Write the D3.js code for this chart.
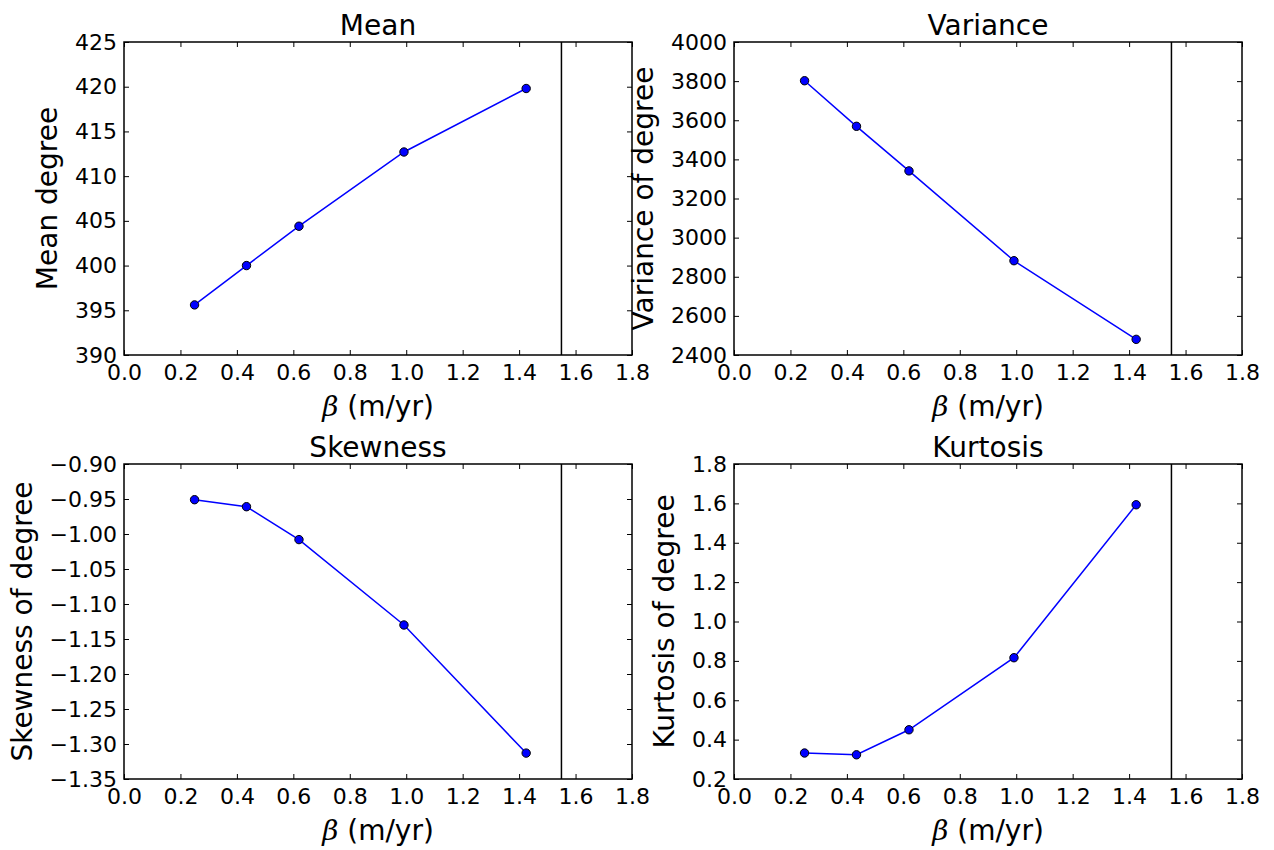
<!DOCTYPE html>
<html>
<head>
<meta charset="utf-8">
<script src="https://cdn.jsdelivr.net/npm/d3@7"></script>
<style>
  body { margin: 0; background: #fff; }
  text { font-family: "DejaVu Sans", sans-serif; fill: #000; }
</style>
</head>
<body>
<svg id="canvas"></svg>
<script>
// Figure size
const width = 1274, height = 850;

// Data
const betaValues = [0.25, 0.434, 0.62, 0.992, 1.425];
const meanValues = [395.6, 400.0, 404.4, 412.7, 419.8];
const varianceValues = [3802, 3569, 3341, 2882, 2480];
const skewnessValues = [-0.951, -0.961, -1.008, -1.130, -1.313];
const kurtosisValues = [0.332, 0.323, 0.45, 0.816, 1.593];

const xTicks = [0.0, 0.2, 0.4, 0.6, 0.8, 1.0, 1.2, 1.4, 1.6, 1.8];
const meanTicks = [390, 395, 400, 405, 410, 415, 420, 425];
const varianceTicks = [2400, 2600, 2800, 3000, 3200, 3400, 3600, 3800, 4000];
const skewnessTicks = [-1.35, -1.30, -1.25, -1.20, -1.15, -1.10, -1.05, -1.00, -0.95, -0.90];
const kurtosisTicks = [0.2, 0.4, 0.6, 0.8, 1.0, 1.2, 1.4, 1.6, 1.8];

const cutoff = 1.55; // vertical black line

// Panel layout (left, right, top, bottom in pixels)
const cols = [[124, 632], [734, 1242]];
const rows = [[42, 355], [464, 779]];

const panels = [
    { title: "Mean", ylabel: "Mean degree", values: meanValues, ticks: meanTicks, fmt: d3.format("d"), col: 0, row: 0 },
    { title: "Variance", ylabel: "Variance of degree", values: varianceValues, ticks: varianceTicks, fmt: d3.format("d"), col: 1, row: 0 },
    { title: "Skewness", ylabel: "Skewness of degree", values: skewnessValues, ticks: skewnessTicks, fmt: d3.format(".2f"), col: 0, row: 1 },
    { title: "Kurtosis", ylabel: "Kurtosis of degree", values: kurtosisValues, ticks: kurtosisTicks, fmt: d3.format(".1f"), col: 1, row: 1 }
];

const svg = d3.select("#canvas")
    .attr("width", width)
    .attr("height", height);

panels.forEach(p => {
    const [x0, x1] = cols[p.col];
    const [y0, y1] = rows[p.row];
    const w = x1 - x0, h = y1 - y0;

    const x = d3.scaleLinear().domain([0, 1.8]).range([0, w]);
    const y = d3.scaleLinear().domain(d3.extent(p.ticks)).range([h, 0]);

    const g = svg.append("g").attr("transform", `translate(${x0},${y0})`);

    // bottom axis with labels, inward ticks
    const xAxis = g.append("g")
        .attr("transform", `translate(0,${h})`)
        .call(d3.axisBottom(x).tickValues(xTicks).tickFormat(d3.format(".1f"))
            .tickSizeInner(-5).tickSizeOuter(0).tickPadding(9));
    // top axis, ticks only
    const xTop = g.append("g")
        .call(d3.axisTop(x).tickValues(xTicks).tickFormat("")
            .tickSizeInner(-5).tickSizeOuter(0));
    // left axis with labels
    const yAxis = g.append("g")
        .call(d3.axisLeft(y).tickValues(p.ticks).tickFormat(p.fmt)
            .tickSizeInner(-5).tickSizeOuter(0).tickPadding(7));
    // right axis, ticks only
    const yRight = g.append("g")
        .attr("transform", `translate(${w},0)`)
        .call(d3.axisRight(y).tickValues(p.ticks).tickFormat("")
            .tickSizeInner(-5).tickSizeOuter(0));

    [xAxis, xTop, yAxis, yRight].forEach(a => {
        a.select(".domain").remove();
        a.selectAll(".tick line").attr("stroke", "#000").attr("stroke-width", 1);
        a.selectAll(".tick text")
            .attr("font-size", 22)
            .attr("font-family", "DejaVu Sans, sans-serif")
            .attr("fill", "#000");
    });

    // vertical cut-off line
    g.append("line")
        .attr("x1", x(cutoff)).attr("x2", x(cutoff))
        .attr("y1", 0).attr("y2", h)
        .attr("stroke", "#000").attr("stroke-width", 1.5);

    // data line
    const pts = betaValues.map((b, i) => [b, p.values[i]]);
    g.append("path")
        .datum(pts)
        .attr("fill", "none")
        .attr("stroke", "#0000ff")
        .attr("stroke-width", 1.5)
        .attr("d", d3.line().x(d => x(d[0])).y(d => y(d[1])));

    g.selectAll("circle.pt")
        .data(pts)
        .enter().append("circle")
        .attr("class", "pt")
        .attr("cx", d => x(d[0]))
        .attr("cy", d => y(d[1]))
        .attr("r", 4.2)
        .attr("fill", "#0000ff")
        .attr("stroke", "#000")
        .attr("stroke-width", 1);

    // frame
    g.append("rect")
        .attr("width", w).attr("height", h)
        .attr("fill", "none")
        .attr("stroke", "#000").attr("stroke-width", 1.5);

    // title
    g.append("text")
        .attr("x", w / 2).attr("y", -7)
        .attr("text-anchor", "middle")
        .attr("font-size", 28)
        .text(p.title);

    // x label
    const xl = g.append("text")
        .attr("x", w / 2).attr("y", h + 61)
        .attr("text-anchor", "middle")
        .attr("font-size", 28);
    xl.append("tspan")
        .attr("font-family", "DejaVu Serif, serif")
        .attr("font-style", "italic")
        .text("β");
    xl.append("tspan").text(" (m/yr)");

    // y label placed left of the widest tick label
    const bb = yAxis.node().getBBox();
    g.append("text")
        .attr("transform", `translate(${bb.x - 18},${h / 2}) rotate(-90)`)
        .attr("text-anchor", "middle")
        .attr("font-size", 28)
        .text(p.ylabel);
});
</script>
</body>
</html>
